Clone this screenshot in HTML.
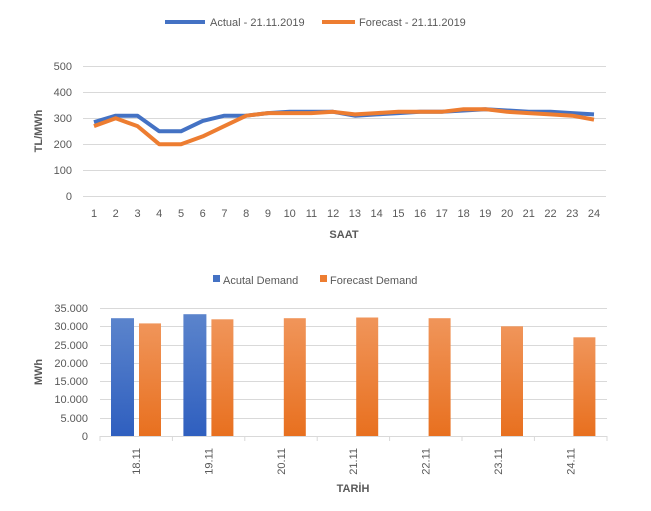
<!DOCTYPE html><html><head><style>body{margin:0;background:#fff}svg{font-family:"Liberation Sans",sans-serif}</style></head><body>
<svg width="651" height="506" xmlns="http://www.w3.org/2000/svg">
<defs>
<linearGradient id="b" x1="0" y1="0" x2="0" y2="1"><stop offset="0" stop-color="#5b84cc"/><stop offset="1" stop-color="#2f5fbf"/></linearGradient>
<linearGradient id="o" x1="0" y1="0" x2="0" y2="1"><stop offset="0" stop-color="#f0955a"/><stop offset="1" stop-color="#e8701f"/></linearGradient>
</defs>
<g font-size="11" fill="#595959">
<line x1="165" y1="22" x2="205" y2="22" stroke="#4472c4" stroke-width="4"/><text x="210" y="26">Actual - 21.11.2019</text>
<line x1="322" y1="22" x2="355" y2="22" stroke="#ed7d31" stroke-width="4"/><text x="359" y="26">Forecast - 21.11.2019</text>
<g stroke="#d9d9d9" stroke-width="1">
<line x1="83" x2="606" y1="66.5" y2="66.5"/><line x1="83" x2="606" y1="92.5" y2="92.5"/><line x1="83" x2="606" y1="118.5" y2="118.5"/><line x1="83" x2="606" y1="144.5" y2="144.5"/><line x1="83" x2="606" y1="170.5" y2="170.5"/><line x1="83" x2="606" y1="196.5" y2="196.5"/>
</g>
<g text-anchor="end"><text x="72" y="70">500</text><text x="72" y="96">400</text><text x="72" y="122">300</text><text x="72" y="148">200</text><text x="72" y="174">100</text><text x="72" y="200">0</text></g>
<text transform="translate(42,131) rotate(-90)" text-anchor="middle" font-weight="bold">TL/MWh</text>
<g text-anchor="middle">
<text x="94" y="217">1</text><text x="115.7" y="217">2</text><text x="137.5" y="217">3</text><text x="159.2" y="217">4</text><text x="181" y="217">5</text><text x="202.7" y="217">6</text><text x="224.4" y="217">7</text><text x="246.2" y="217">8</text><text x="267.9" y="217">9</text><text x="289.7" y="217">10</text><text x="311.4" y="217">11</text><text x="333.1" y="217">12</text><text x="354.9" y="217">13</text><text x="376.6" y="217">14</text><text x="398.4" y="217">15</text><text x="420.1" y="217">16</text><text x="441.8" y="217">17</text><text x="463.6" y="217">18</text><text x="485.3" y="217">19</text><text x="507.1" y="217">20</text><text x="528.8" y="217">21</text><text x="550.5" y="217">22</text><text x="572.3" y="217">23</text><text x="594" y="217">24</text>
</g>
<text x="344" y="238" text-anchor="middle" font-weight="bold">SAAT</text>
<polyline id="pa" fill="none" stroke="#4472c4" stroke-width="4" stroke-linejoin="round"/>
<polyline id="pf" fill="none" stroke="#ed7d31" stroke-width="4" stroke-linejoin="round"/>

<rect x="213" y="275" width="7" height="7" fill="#4472c4"/><text x="223" y="284">Acutal Demand</text>
<rect x="320" y="275" width="7" height="7" fill="#ed7d31"/><text x="330" y="284">Forecast Demand</text>
<g stroke="#d9d9d9"><line x1="100" x2="607" y1="308.5" y2="308.5"/><line x1="100" x2="607" y1="326.5" y2="326.5"/><line x1="100" x2="607" y1="345.5" y2="345.5"/><line x1="100" x2="607" y1="363.5" y2="363.5"/><line x1="100" x2="607" y1="381.5" y2="381.5"/><line x1="100" x2="607" y1="399.5" y2="399.5"/><line x1="100" x2="607" y1="418.5" y2="418.5"/><line x1="100" x2="607" y1="436.5" y2="436.5"/>
<line x1="100" x2="100" y1="436" y2="441"/><line x1="172.4" x2="172.4" y1="436" y2="441"/><line x1="244.8" x2="244.8" y1="436" y2="441"/><line x1="317.2" x2="317.2" y1="436" y2="441"/><line x1="389.6" x2="389.6" y1="436" y2="441"/><line x1="462" x2="462" y1="436" y2="441"/><line x1="534.4" x2="534.4" y1="436" y2="441"/><line x1="607" x2="607" y1="436" y2="441"/></g>
<g text-anchor="end"><text x="88" y="312">35.000</text><text x="88" y="330">30.000</text><text x="88" y="349">25.000</text><text x="88" y="367">20.000</text><text x="88" y="385">15.000</text><text x="88" y="403">10.000</text><text x="88" y="422">5.000</text><text x="88" y="440">0</text></g>
<text transform="translate(42,372) rotate(-90)" text-anchor="middle" font-weight="bold">MWh</text>
<rect x="111" y="318.2" width="23" height="117.8" fill="url(#b)"/>
<rect x="183.4" y="314.2" width="23" height="121.8" fill="url(#b)"/>
<rect x="139" y="323.4" width="22" height="112.6" fill="url(#o)"/>
<rect x="211.4" y="319.3" width="22" height="116.7" fill="url(#o)"/>
<rect x="283.8" y="318.2" width="22" height="117.8" fill="url(#o)"/>
<rect x="356.2" y="317.5" width="22" height="118.5" fill="url(#o)"/>
<rect x="428.6" y="318.2" width="22" height="117.8" fill="url(#o)"/>
<rect x="501" y="326.3" width="22" height="109.7" fill="url(#o)"/>
<rect x="573.4" y="337.3" width="22" height="98.7" fill="url(#o)"/>
<g text-anchor="end">
<text transform="translate(140,448) rotate(-90)">18.11</text>
<text transform="translate(212.4,448) rotate(-90)">19.11</text>
<text transform="translate(284.8,448) rotate(-90)">20.11</text>
<text transform="translate(357.2,448) rotate(-90)">21.11</text>
<text transform="translate(429.6,448) rotate(-90)">22.11</text>
<text transform="translate(502,448) rotate(-90)">23.11</text>
<text transform="translate(574.4,448) rotate(-90)">24.11</text>
</g>
<text x="353" y="492" text-anchor="middle" font-weight="bold">TARİH</text>
</g>
<script>
var a=[285,310,310,250,250,290,310,310,320,325,325,325,310,315,320,325,325,330,335,330,325,325,320,315],f=[270,300,270,200,200,230,270,310,320,320,320,325,315,320,325,325,325,335,335,325,320,315,310,295];
function P(v){return v.map(function(y,i){return (94+i*21.74).toFixed(1)+","+(196-y*0.259).toFixed(1)}).join(" ")}
document.getElementById("pa").setAttribute("points",P(a));document.getElementById("pf").setAttribute("points",P(f));
</script>
</svg></body></html>
